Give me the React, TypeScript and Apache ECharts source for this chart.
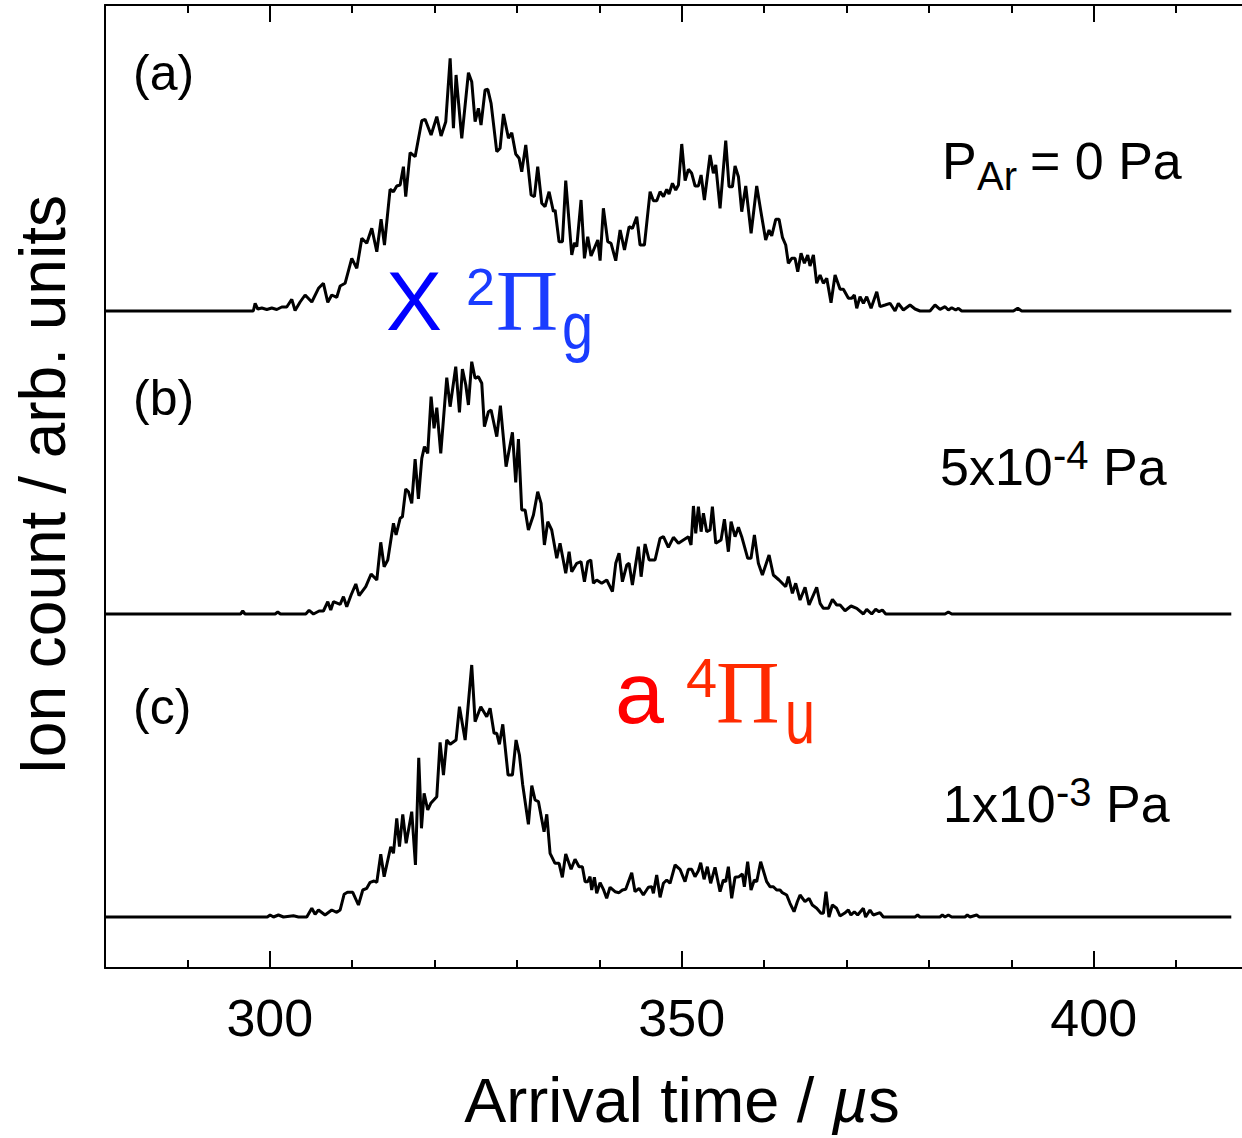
import React, { useEffect, useRef } from "react";
import * as echarts from "echarts";

// ---- axis ----
const X_MIN = 280;
const X_MAX = 418;
const Y_MAX = 963;
const majorTicks = [300, 350, 400];
const minorTicks = [290, 310, 320, 330, 340, 360, 370, 380, 390, 410];

// vertical offsets of the three traces (arb. units)
const offsetA = 657;
const offsetB = 354;
const offsetC = 51;

// ---- data: [arrival time (µs), ion count (arb. units)] ----
const traceA: [number, number][] = [
  [280, 0], [298.0, 0], [298.22, 7.7], [298.54, 2], [299.03, 3], [299.64, 1.5], [300.24, 3], [300.85, 1.5],
  [301.46, 4], [302.06, 4], [302.67, 11.7], [303.07, 0.5], [303.68, 9], [304.29, 16], [305.1, 9], [305.91, 22.7],
  [306.51, 27.7], [307.04, 8.7], [307.52, 16], [308.13, 13.7], [308.54, 25], [309.14, 27.7], [309.95, 52.7],
  [310.56, 42.7], [311.17, 72.7], [311.77, 67.7], [312.38, 82.7], [312.99, 59.3], [313.51, 91.7], [313.92, 66],
  [314.6, 121.7], [315.01, 119.3], [315.41, 125], [315.82, 126], [316.22, 144.3], [316.5, 114.3], [317.03, 158.3],
  [317.64, 154.3], [318.45, 190.3], [318.85, 191.7], [319.58, 176], [320.27, 194.3], [320.79, 175], [321.36, 189.3],
  [321.89, 252.7], [322.29, 182.7], [322.61, 236], [323.3, 172.7], [324.11, 238.3], [324.51, 229.3], [324.92, 189.3],
  [325.32, 202.7], [325.64, 186], [326.13, 221], [326.46, 221.7], [326.86, 207.7], [327.55, 159.3], [327.95, 162.7],
  [328.36, 197], [328.97, 172.7], [329.37, 178.3], [329.85, 157], [330.26, 152.7], [330.58, 139.3], [331.07, 166],
  [331.72, 116], [332.12, 114.3], [332.52, 144.3], [333.01, 107.7], [333.41, 104.3], [333.9, 119.3], [334.43, 99.3],
  [334.63, 101], [335.11, 69.3], [335.52, 69.3], [335.92, 130.3], [336.65, 56], [336.98, 68.3], [337.26, 64.3],
  [337.78, 111], [338.19, 52.7], [338.59, 74.3], [338.99, 55], [339.81, 71], [340.09, 50.3], [340.49, 102.7],
  [341.02, 69.3], [341.42, 67.7], [341.99, 50.3], [342.52, 81], [343.05, 61], [343.61, 84.3], [344.01, 82.6],
  [344.54, 94.3], [344.94, 66], [345.47, 66], [346.16, 119.3], [346.56, 110.3], [346.97, 110.3], [347.37, 119.3],
  [347.78, 114.3], [348.18, 121.7], [348.46, 117], [348.87, 127.7], [349.27, 121], [349.6, 126], [350.0, 167],
  [350.41, 130.3], [350.81, 141.7], [351.21, 137.7], [351.62, 125], [352.02, 125], [352.35, 136], [352.75, 111],
  [353.44, 156], [353.84, 137.7], [354.13, 146], [354.65, 102.7], [355.34, 170.3], [355.74, 124.3], [356.15, 124.3],
  [356.47, 145], [356.88, 134.3], [357.28, 99.3], [357.77, 125], [358.42, 77.7], [359.1, 125], [359.63, 98.3],
  [360.19, 71], [360.6, 81], [360.92, 75], [361.41, 91.7], [361.81, 91.7], [362.22, 73.7], [362.62, 66],
  [362.94, 47.7], [363.35, 52.7], [363.75, 52.7], [364.08, 39.3], [364.48, 57.7], [364.89, 47.7], [365.29, 56],
  [365.57, 45], [365.98, 56], [366.38, 27.7], [366.79, 36], [367.19, 27.7], [367.6, 32.7], [368.12, 8.3],
  [368.61, 36], [369.22, 21.7], [369.62, 21.7], [370.23, 12.7], [370.63, 12.7], [370.95, 16], [371.24, 2.7],
  [371.64, 14.3], [372.05, 7.7], [372.45, 14.3], [372.98, 2.7], [373.67, 19.3], [374.07, 4.3], [374.68, 6],
  [375.28, 7.7], [375.89, 0], [376.29, 7.7], [376.9, 1], [377.71, 6], [378.32, 2], [378.92, 0], [380.13, 0],
  [380.74, 6], [381.35, 1.7], [381.96, 4.3], [382.36, 1], [382.77, 3.3], [383.25, 1], [383.58, 2.7], [383.98, 0],
  [390.25, 0], [390.78, 2.7], [391.26, 0], [416.7, 0],
];

const traceB: [number, number][] = [
  [280, 0], [296.45, 0], [296.72, 3], [296.99, 0], [300.65, 0], [300.97, 2], [301.29, 0], [304.37, 0],
  [304.77, 3.7], [305.3, 0], [305.99, 3], [306.51, 3], [307.04, 12.3], [307.4, 4], [307.73, 12.3], [308.54, 9.7],
  [308.94, 17.3], [309.34, 7.3], [309.87, 19], [310.44, 30], [310.84, 18.3], [311.65, 27.3], [312.3, 40],
  [312.99, 34], [313.47, 71.7], [313.88, 47.3], [314.32, 54], [315.01, 90.7], [315.33, 79], [315.82, 95.7],
  [316.1, 97.3], [316.5, 125], [316.83, 122.3], [317.23, 110.7], [317.64, 155], [318.04, 115], [318.45, 155.7],
  [318.77, 167.3], [319.17, 160.7], [319.58, 217.3], [319.94, 185.7], [320.27, 206.3], [320.75, 160.7],
  [321.48, 236.3], [321.89, 207.3], [322.57, 247.3], [323.02, 201.7], [323.38, 245], [323.79, 229], [324.11, 209],
  [324.51, 252.3], [324.92, 235.7], [325.32, 237.3], [325.73, 230.7], [326.05, 187.3], [326.54, 202.3], [326.86, 204],
  [327.55, 177.3], [327.99, 208.3], [328.68, 147.3], [329.45, 181.7], [329.85, 131.7], [330.18, 175], [330.58, 104],
  [330.99, 104], [331.39, 84], [332.0, 99], [332.52, 122.3], [332.93, 110.7], [333.33, 69], [333.74, 92.3],
  [334.22, 84], [334.83, 55.7], [335.23, 70.7], [335.92, 40.7], [336.33, 62.3], [336.65, 42.3], [337.26, 50.7],
  [337.78, 52.3], [338.19, 32.3], [338.59, 52.3], [338.96, 54], [339.28, 30.7], [339.68, 34], [340.29, 30.7],
  [340.9, 34], [341.59, 22.3], [341.99, 50.7], [342.39, 60.7], [342.8, 32.3], [343.33, 49], [343.61, 50.7],
  [344.01, 29], [344.74, 67.3], [345.07, 37.3], [345.55, 70], [346.04, 54], [346.76, 54], [347.37, 75.7],
  [347.78, 77.3], [348.38, 66.7], [348.99, 76.7], [349.6, 70.7], [350.2, 74], [350.81, 77.3], [351.13, 69],
  [351.42, 108], [351.7, 80.7], [352.02, 107.3], [352.35, 82.3], [352.63, 100.7], [353.03, 82.3], [353.44, 84],
  [353.72, 107.3], [354.13, 70.7], [354.77, 74], [355.18, 94.7], [355.66, 62.3], [355.99, 92.3], [356.47, 77.3],
  [356.88, 86.7], [357.28, 77.3], [358.01, 55.7], [358.41, 55.7], [358.82, 79], [359.3, 50.7], [359.79, 39],
  [360.6, 59], [361.12, 39], [361.81, 34], [362.62, 27.3], [362.94, 37.3], [363.43, 20.7], [363.83, 30.7],
  [364.36, 14], [364.97, 26.7], [365.45, 9], [366.38, 26.7], [366.79, 10.7], [367.19, 5.7], [367.8, 5.7],
  [368.29, 14.7], [368.81, 9], [369.22, 9], [369.82, 3.3], [370.55, 8], [371.24, 5.7], [372.05, 0], [372.45, 4.7],
  [373.06, 0], [373.54, 4.7], [373.95, 2.3], [374.35, 4], [374.76, 0], [381.96, 0], [382.36, 2], [382.77, 0],
  [416.7, 0],
];

const traceC: [number, number][] = [
  [280, 0], [299.7, 0], [300.04, 2], [300.45, 0], [301.05, 2], [301.66, 0], [302.87, 1.3], [303.48, 0],
  [304.49, 0], [305.1, 8.7], [305.5, 2.7], [305.91, 7], [306.71, 2], [307.52, 7], [308.13, 4.7], [308.54, 7],
  [309.02, 22.7], [309.43, 24.7], [310.07, 24.7], [310.76, 12], [311.29, 27], [311.77, 28.7], [312.18, 34.7],
  [312.66, 36], [312.99, 34.7], [313.47, 62.7], [313.88, 40.3], [314.68, 70.3], [315.01, 63.7], [315.41, 98.7],
  [315.74, 70.3], [316.14, 102.7], [316.55, 73.7], [317.23, 105.3], [317.68, 52], [318.08, 159.3], [318.41, 88.7],
  [318.73, 123.7], [319.17, 107], [319.54, 113.7], [320.27, 120.3], [320.67, 174.7], [321.08, 142], [321.48, 177],
  [321.89, 172.7], [322.61, 177], [323.02, 210.3], [323.71, 177], [324.51, 252], [324.92, 195.3], [325.61, 210.3],
  [326.33, 200.3], [326.74, 208.7], [327.22, 183.7], [327.55, 183.7], [327.87, 172.7], [328.28, 192.7],
  [328.92, 142], [329.45, 142], [329.89, 177], [330.3, 162], [330.7, 132], [331.39, 92.7], [331.8, 131.3],
  [332.2, 117], [332.61, 115.3], [333.29, 85.3], [333.62, 102.7], [334.02, 63.7], [334.62, 53.7], [335.11, 53.7],
  [335.51, 39.7], [335.92, 63], [336.57, 47.7], [337.05, 57.7], [337.54, 50.3], [337.94, 50.3], [338.27, 35.3],
  [338.59, 35.3], [338.87, 40.3], [339.07, 27], [339.4, 39.7], [339.68, 23.7], [340.09, 34.3], [340.49, 27.7],
  [340.89, 18.7], [341.3, 29.7], [341.91, 25.3], [342.39, 24.3], [342.8, 27], [343.2, 27.7], [343.93, 44.3],
  [344.33, 25.3], [344.82, 28.7], [345.34, 22], [345.95, 29.7], [346.36, 30.3], [346.56, 23.7], [346.96, 42],
  [347.37, 19.7], [347.77, 33.7], [348.18, 37], [348.58, 33.7], [349.19, 52], [349.79, 47.7], [350.4, 35.3],
  [350.8, 47.7], [351.21, 47.7], [351.61, 40.3], [352.02, 46.3], [352.3, 54.3], [352.71, 37.7], [353.11, 50.3],
  [353.51, 33.7], [354.04, 49.7], [354.65, 25.3], [355.05, 37], [355.34, 35.3], [355.66, 50.3], [356.06, 18.7],
  [356.47, 39.7], [356.95, 40.3], [357.36, 43], [357.6, 30.3], [358.0, 55.3], [358.41, 27], [358.81, 37],
  [359.1, 35.3], [359.58, 55.3], [360.31, 35.3], [360.71, 30.3], [361.12, 30.3], [361.52, 27], [361.93, 27],
  [362.21, 24.3], [362.74, 22], [363.14, 13.7], [363.63, 5.3], [364.03, 15.3], [364.36, 22], [364.96, 15.3],
  [365.45, 18.7], [365.85, 12], [366.38, 8.7], [366.9, 3.7], [367.19, 3.7], [367.51, 25.3], [367.87, 0],
  [368.28, 12], [368.8, 8.7], [369.21, 1], [369.74, 3.7], [370.22, 7], [370.54, 2], [370.95, 5.3], [371.35, 2],
  [372.04, 8.7], [372.32, 0], [372.85, 7], [373.25, 2], [374.06, 4.3], [374.47, 0], [378.31, 0], [378.63, 2],
  [378.92, 0], [381.34, 0], [381.63, 2], [381.95, 0], [382.36, 2], [382.76, 0], [384.38, 0], [384.66, 2],
  [384.99, 0], [385.79, 2], [386.12, 0], [416.7, 0],
];

const FONT = '"Liberation Sans", Arial, Helvetica, sans-serif';
const SERIF = '"Liberation Serif", "Times New Roman", "DejaVu Serif", serif';

function txt(
  x: number,
  baseline: number,
  text: string,
  size: number,
  color = "#000",
  family = FONT,
  scaleY = 1
) {
  return {
    type: "text",
    x,
    y: baseline - 0.3465 * size * scaleY,
    scaleY,
    z: 10,
    style: {
      x: 0,
      y: 0,
      text,
      fill: color,
      fontSize: size,
      fontFamily: family,
      font: `${size}px ${family}`,
      align: "left",
      textAlign: "left",
      verticalAlign: "middle",
      textVerticalAlign: "middle",
    },
  };
}

function shifted(data: [number, number][], off: number) {
  return data.map(([t, v]) => [t, v + off]);
}

function xAxisDef(position: "top" | "bottom", ticks: number[], len: number, showLine: boolean, showLabel: boolean) {
  return {
    type: "value",
    min: X_MIN,
    max: X_MAX,
    position,
    axisLine: { show: showLine, onZero: false, lineStyle: { color: "#000", width: 2 } },
    axisTick: { show: true, inside: true, length: len, customValues: ticks, lineStyle: { color: "#000", width: 2 } },
    axisLabel: showLabel
      ? { show: true, customValues: ticks, fontSize: 52, color: "#000", margin: 24, fontFamily: FONT }
      : { show: false },
    splitLine: { show: false },
    minorTick: { show: false },
  };
}

export default function App() {
  const ref = useRef<HTMLDivElement>(null);
  useEffect(() => {
    if (!ref.current) return;
    const chart = echarts.init(ref.current, null, { renderer: "svg" });
    const lineStyle = { color: "#000", width: 3 };
    const option: any = {
      animation: false,
      backgroundColor: "#fff",
      textStyle: { fontFamily: FONT },
      grid: { left: 105, right: 0, top: 5, bottom: 170, containLabel: false },
      xAxis: [
        xAxisDef("bottom", majorTicks, 17, true, true),
        xAxisDef("bottom", minorTicks, 8, false, false),
        xAxisDef("top", majorTicks, 17, true, false),
        xAxisDef("top", minorTicks, 8, false, false),
      ],
      yAxis: {
        type: "value",
        min: 0,
        max: Y_MAX,
        axisLine: { show: true, onZero: false, lineStyle: { color: "#000", width: 2 } },
        axisTick: { show: false },
        axisLabel: { show: false },
        splitLine: { show: false },
      },
      series: [
        { name: "(a) P_Ar = 0 Pa", type: "line", data: shifted(traceA, offsetA), showSymbol: false, symbol: "none", lineStyle, z: 3 },
        { name: "(b) 5x10^-4 Pa", type: "line", data: shifted(traceB, offsetB), showSymbol: false, symbol: "none", lineStyle, z: 3 },
        { name: "(c) 1x10^-3 Pa", type: "line", data: shifted(traceC, offsetC), showSymbol: false, symbol: "none", lineStyle, z: 3 },
      ],
      graphic: [
        // panel labels
        txt(133, 90, "(a)", 50),
        txt(133, 415, "(b)", 50),
        txt(133, 724, "(c)", 50),
        // pressures
        txt(942, 179, "P", 52),
        txt(977, 190, "Ar", 40),
        txt(1030, 179, "= 0 Pa", 52),
        txt(940, 485, "5x10", 52),
        txt(1053, 469, "-4", 40),
        txt(1103, 485, "Pa", 52),
        txt(943, 822, "1x10", 52),
        txt(1056, 806, "-3", 40),
        txt(1106, 822, "Pa", 52),
        // state labels
        txt(386, 330, "X", 84, "#0000ff"),
        txt(466, 305, "2", 52, "#1a3cff"),
        txt(496, 331, "Π", 86, "#1a3cff", SERIF),
        txt(562, 349.5, "g", 56, "#1a3cff", FONT, 1.18),
        txt(615, 723, "a", 88, "#ff0000"),
        txt(686, 697, "4", 56, "#ff2a00"),
        txt(716, 723, "Π", 88, "#ff2a00", SERIF),
        txt(785, 743, "u", 54, "#ff2a00", FONT, 1.45),
        // axis titles
        {
          type: "text",
          x: 682,
          y: 1122 - 0.3465 * 63,
          z: 10,
          style: {
            text: "{n|Arrival time / }{i|µ}{n|s}",
            rich: {
              n: { fontSize: 63, lineHeight: 56, fontFamily: FONT, fill: "#000", color: "#000" },
              i: { fontSize: 63, lineHeight: 56, fontFamily: FONT, fontStyle: "italic", fill: "#000", color: "#000" },
            },
            fill: "#000",
            fontSize: 63,
            lineHeight: 56,
            fontFamily: FONT,
            align: "center",
            textAlign: "center",
            verticalAlign: "middle",
            textVerticalAlign: "middle",
          },
        },
        {
          type: "text",
          x: 65 - 0.3465 * 64,
          y: 485,
          rotation: Math.PI / 2,
          z: 10,
          style: {
            text: "Ion count / arb. units",
            fill: "#000",
            fontSize: 64,
            fontFamily: FONT,
            font: `64px ${FONT}`,
            align: "center",
            textAlign: "center",
            verticalAlign: "middle",
            textVerticalAlign: "middle",
          },
        },
      ],
    };
    chart.setOption(option);
    return () => chart.dispose();
  }, []);
  return (
    <div
      ref={ref}
      style={{ position: "fixed", left: 0, top: 0, width: 1242, height: 1138, background: "#fff" }}
    />
  );
}
